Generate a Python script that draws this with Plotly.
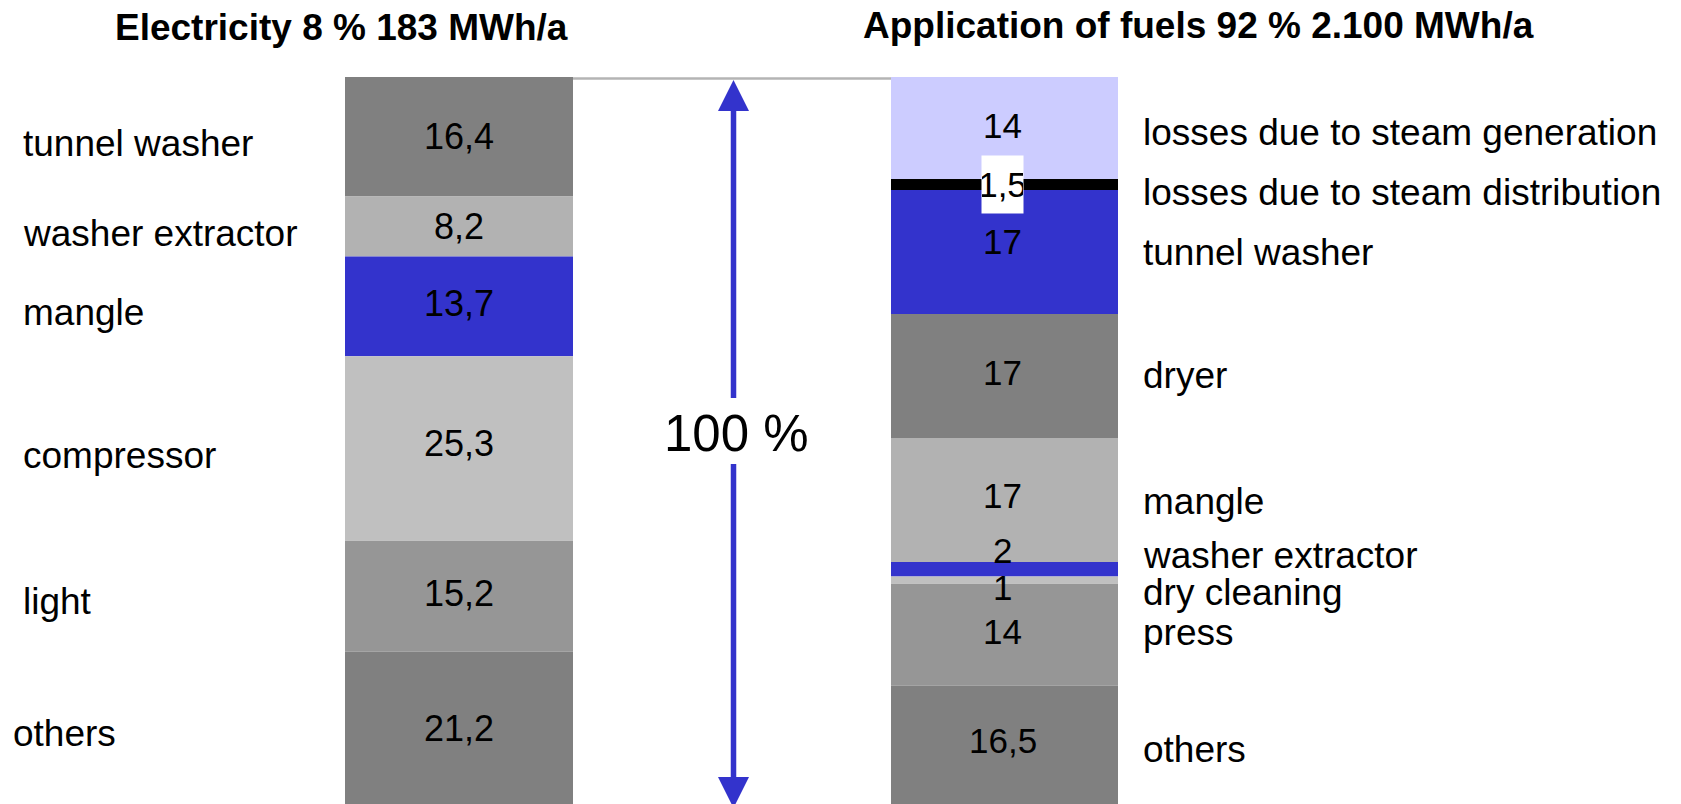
import plotly.graph_objects as go

# ---- data -------------------------------------------------------------
elec_title = "Electricity 8 % 183 MWh/a"
elec_categories = ["tunnel washer", "washer extractor", "mangle",
                   "compressor", "light", "others"]
elec_values = [16.4, 8.2, 13.7, 25.3, 15.2, 21.2]

fuel_title = "Application of fuels 92 % 2.100 MWh/a"
fuel_categories = ["losses due to steam generation",
                   "losses due to steam distribution",
                   "tunnel washer", "dryer", "mangle",
                   "washer extractor", "dry cleaning", "press", "others"]
fuel_values = [14, 1.5, 17, 17, 17, 2, 1, 14, 16.5]

total_label = "100 %"

# ---- styling ----------------------------------------------------------
BLUE = "#3333CC"
elec_colors = ["#808080", "#B2B2B2", BLUE, "#C0C0C0", "#969696", "#808080"]
fuel_colors = ["#CCCCFF", "#000000", BLUE, "#808080", "#B2B2B2",
               BLUE, "#C0C0C0", "#969696", "#808080"]

# vertical pixel nudges (positive = down) for individual texts
elec_value_dy = [0, 0, -3, -5, -3, 0]
elec_label_dy = [7, 7, 6, 7, 5, 5]
fuel_value_dy = [-3, 0, -11, -3, -4, -19, 7, -3, -6]
fuel_label_dy = [4, 8, 0, 0, 2, -14, 12, -2, 3]

FONT = "Liberation Sans, Arial, Helvetica, sans-serif"
NUM_FONT = "Liberation Sans Narrow, Arial Narrow, Liberation Sans, Arial, sans-serif"

W, H = 1681, 804
TOP = 77                      # top of the plot area in px
PLOT_H = H - TOP
Y_MAX = 99.7                  # value shown at the bottom edge

ELEC_X, ELEC_W = 459, 228
FUEL_X, FUEL_W = 1004.5, 227


def y_of(px):
    """pixel row -> y data value"""
    return (px - TOP) / PLOT_H * Y_MAX


def paper_of(px):
    return (H - px) / PLOT_H


def fmt(v):
    return str(int(v)) if float(v).is_integer() else f"{v:.1f}".replace(".", ",")


def starts(values):
    out, acc = [], 0.0
    for v in values:
        out.append(acc)
        acc += v
    return out


elec_base = starts(elec_values)
fuel_base = starts(fuel_values)

fig = go.Figure()
fig.add_trace(go.Bar(x=[ELEC_X] * len(elec_values), y=elec_values, base=elec_base,
                     width=ELEC_W, marker=dict(color=elec_colors, line=dict(width=0)),
                     hoverinfo="skip", showlegend=False))
fig.add_trace(go.Bar(x=[FUEL_X] * len(fuel_values), y=fuel_values, base=fuel_base,
                     width=FUEL_W, marker=dict(color=fuel_colors, line=dict(width=0)),
                     hoverinfo="skip", showlegend=False))

ann = []
# titles
ann.append(dict(x=341, y=paper_of(28), xref="x", yref="paper", text=f"<b>{elec_title}</b>",
                showarrow=False, font=dict(family=FONT, size=37, color="black"),
                xanchor="center", yanchor="middle"))
ann.append(dict(x=1198, y=paper_of(25), xref="x", yref="paper", text=f"<b>{fuel_title}</b>",
                showarrow=False, font=dict(family=FONT, size=37, color="black"),
                xanchor="center", yanchor="middle"))

# electricity column: values and category names
for i, (cat, v, b) in enumerate(zip(elec_categories, elec_values, elec_base)):
    mid = b + v / 2
    ann.append(dict(x=ELEC_X, y=mid, xref="x", yref="y", text=fmt(v), showarrow=False,
                    font=dict(family=NUM_FONT, size=36, color="black"),
                    xanchor="center", yanchor="middle", yshift=-elec_value_dy[i]))
    ann.append(dict(x=11 if cat == "others" else 21, y=mid, xref="x", yref="y", text=cat,
                    showarrow=False, font=dict(family=FONT, size=37, color="black"),
                    xanchor="left", yanchor="middle", yshift=-elec_label_dy[i]))

# fuel column: values and category names
for i, (cat, v, b) in enumerate(zip(fuel_categories, fuel_values, fuel_base)):
    mid = b + v / 2
    if i == 1:
        ann.append(dict(x=FUEL_X - 2, y=mid, xref="x", yref="y", text=fmt(v), showarrow=False,
                        font=dict(family=NUM_FONT, size=35, color="black"),
                        bgcolor="white", width=41, height=57, valign="middle", borderpad=0,
                        xanchor="center", yanchor="middle"))
    else:
        ann.append(dict(x=FUEL_X - 2, y=mid, xref="x", yref="y", text=fmt(v), showarrow=False,
                        font=dict(family=NUM_FONT, size=35, color="black"),
                        xanchor="center", yanchor="middle", yshift=-fuel_value_dy[i]))
    ann.append(dict(x=1141, y=mid, xref="x", yref="y", text=cat, showarrow=False,
                    font=dict(family=FONT, size=37, color="black"),
                    xanchor="left", yanchor="middle", yshift=-fuel_label_dy[i]))

# 100 % marker text
ann.append(dict(x=736.5, y=y_of(433.5), xref="x", yref="y", text=total_label, showarrow=False,
                font=dict(family=FONT, size=51, color="black"),
                xanchor="center", yanchor="middle"))

# connector line and double arrow
AX = 733.5
HW = 15.5
shapes = [
    dict(type="line", xref="x", yref="y", x0=ELEC_X + ELEC_W / 2, x1=FUEL_X - FUEL_W / 2,
         y0=y_of(78.5), y1=y_of(78.5), line=dict(color="#B4B4B4", width=2.5)),
    dict(type="line", xref="x", yref="y", x0=AX, x1=AX, y0=y_of(108), y1=y_of(398),
         line=dict(color=BLUE, width=5.5)),
    dict(type="line", xref="x", yref="y", x0=AX, x1=AX, y0=y_of(464), y1=y_of(780),
         line=dict(color=BLUE, width=5.5)),
    dict(type="path", xref="x", yref="y",
         path=f"M {AX} {y_of(80)} L {AX - HW} {y_of(111)} L {AX + HW} {y_of(111)} Z",
         fillcolor=BLUE, line=dict(width=0)),
    dict(type="path", xref="x", yref="y",
         path=f"M {AX} {y_of(808)} L {AX - HW} {y_of(777)} L {AX + HW} {y_of(777)} Z",
         fillcolor=BLUE, line=dict(width=0)),
]

fig.update_layout(
    width=W, height=H,
    margin=dict(l=0, r=0, t=TOP, b=0),
    paper_bgcolor="white", plot_bgcolor="white",
    barmode="overlay",
    xaxis=dict(range=[0, W], visible=False, fixedrange=True),
    yaxis=dict(range=[Y_MAX, 0], visible=False, fixedrange=True),
    annotations=ann, shapes=shapes,
)

fig.write_html("out.html")
